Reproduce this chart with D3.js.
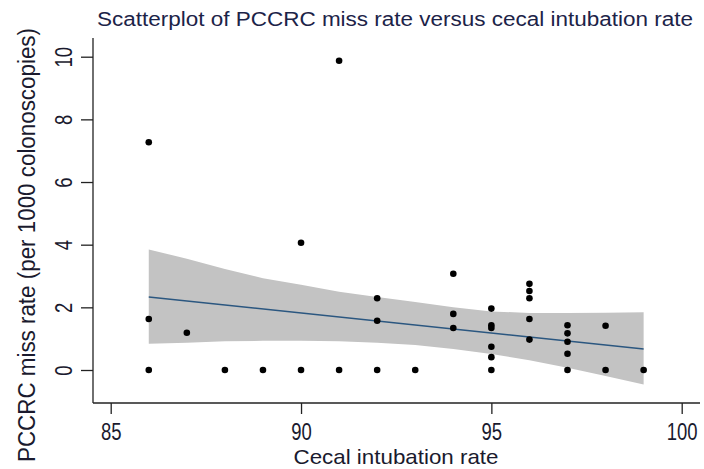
<!DOCTYPE html>
<html>
<head>
<meta charset="utf-8">
<script src="https://cdn.jsdelivr.net/npm/d3@7"></script>
<style>
  html, body { margin: 0; padding: 0; background: #fff; }
  svg { display: block; }
  .narrow { font-family: "Liberation Sans", Arial, sans-serif; }
</style>
</head>
<body>
<svg id="chart" width="704" height="469"></svg>
<script>
// ---- data ----
const cecalRate = [86, 86, 86, 87, 88, 89, 90, 90, 91, 91, 92, 92, 92, 93,
                   94, 94, 94, 95, 95, 95, 95, 95, 95, 96, 96, 96, 96, 96,
                   97, 97, 97, 97, 97, 98, 98, 99];
const missRate  = [7.27, 1.63, 0, 1.19, 0, 0, 4.06, 0, 9.87, 0, 2.29, 1.57, 0, 0,
                   3.07, 1.79, 1.34, 1.96, 1.43, 1.34, 0.74, 0.41, 0, 2.75, 2.52, 2.29, 1.63, 0.97,
                   1.43, 1.17, 0.90, 0.52, 0, 1.41, 0, 0];
// fitted line and 95% CI band
const fitX   = [86, 99];
const fitY   = [2.33, 0.67];
const ciX     = [86, 87, 88, 89, 90, 91, 92, 93, 94, 95, 96, 97, 98, 99];
const ciUpper = [3.85, 3.55, 3.22, 2.93, 2.72, 2.50, 2.33, 2.17, 2.00, 1.87, 1.82, 1.82, 1.83, 1.84];
const ciLower = [0.84, 0.87, 0.92, 0.93, 0.93, 0.92, 0.87, 0.80, 0.67, 0.51, 0.31, 0.07, -0.19, -0.46];
const xTicks = [85, 90, 95, 100];
const yTicks = [0, 2, 4, 6, 8, 10];
const titleText = "Scatterplot of PCCRC miss rate versus cecal intubation rate";
const xTitle = "Cecal intubation rate";
const yTitle = "PCCRC miss rate (per 1000 colonoscopies)";

// ---- layout ----
const svg = d3.select("#chart");
const axisLeftX = 93, axisBottomY = 403, plotTop = 38, plotRight = 700;
const x = d3.scaleLinear().domain([85, 100]).range([110.7, 681.7]);
const y = d3.scaleLinear().domain([0, 10]).range([370, 56.7]);

// CI band
const band = ciX.map((v, i) => ({x: v, lo: ciLower[i], hi: ciUpper[i]}));
svg.append("path")
  .datum(band)
  .attr("fill", "#c3c3c3")
  .attr("d", d3.area().x(d => x(d.x)).y0(d => y(d.lo)).y1(d => y(d.hi)));

// fitted line
svg.append("path")
  .datum(fitX.map((v, i) => ({x: v, y: fitY[i]})))
  .attr("fill", "none")
  .attr("stroke", "#2b5780")
  .attr("stroke-width", 1.4)
  .attr("d", d3.line().x(d => x(d.x)).y(d => y(d.y)));

// points
svg.append("g").selectAll("circle")
  .data(cecalRate.map((v, i) => ({x: v, y: missRate[i]})))
  .join("circle")
  .attr("cx", d => x(d.x))
  .attr("cy", d => y(d.y))
  .attr("r", 3.3)
  .attr("fill", "#000");

// axes lines
svg.append("line").attr("x1", axisLeftX).attr("x2", axisLeftX)
  .attr("y1", plotTop).attr("y2", axisBottomY)
  .attr("stroke", "#222").attr("stroke-width", 1.3);
svg.append("line").attr("x1", axisLeftX).attr("x2", plotRight)
  .attr("y1", axisBottomY).attr("y2", axisBottomY)
  .attr("stroke", "#222").attr("stroke-width", 1.3);

// x axis ticks
const gx = svg.append("g").attr("transform", `translate(0,${axisBottomY})`)
  .call(d3.axisBottom(x).tickValues(xTicks).tickSize(11).tickSizeOuter(0).tickFormat(d3.format("d")));
gx.select(".domain").remove();
gx.selectAll(".tick line").attr("stroke", "#222").attr("stroke-width", 1.3);
gx.selectAll(".tick text")
  .attr("class", "narrow")
  .attr("font-size", 22).attr("fill", "#1a1a2e")
  .attr("dy", null).attr("y", 35.24)
  .attr("transform", "scale(0.84,1.05)");

// y axis ticks
const gy = svg.append("g").attr("transform", `translate(${axisLeftX},0)`)
  .call(d3.axisLeft(y).tickValues(yTicks).tickSize(12).tickSizeOuter(0).tickFormat(d3.format("d")));
gy.select(".domain").remove();
gy.selectAll(".tick line").attr("stroke", "#222").attr("stroke-width", 1.3);
gy.selectAll(".tick text")
  .attr("class", "narrow")
  .attr("font-size", 22).attr("fill", "#1a1a2e")
  .attr("text-anchor", "middle")
  .attr("dy", null).attr("x", null)
  .attr("transform", "translate(-21.3,0) rotate(-90) scale(0.84,1.05)");

// titles
svg.append("text")
  .attr("x", 395).attr("y", 26)
  .attr("text-anchor", "middle")
  .attr("font-family", "'Liberation Sans', Arial, sans-serif")
  .attr("font-size", 19.5).attr("fill", "#1c2348")
  .attr("textLength", 596).attr("lengthAdjust", "spacingAndGlyphs")
  .text(titleText);

svg.append("text")
  .attr("class", "narrow")
  .attr("x", 396).attr("y", 464)
  .attr("text-anchor", "middle")
  .attr("font-size", 21).attr("fill", "#1a1a2e")
  .attr("textLength", 205).attr("lengthAdjust", "spacingAndGlyphs")
  .text(xTitle);

svg.append("text")
  .attr("class", "narrow")
  .attr("transform", "translate(35,245) rotate(-90)")
  .attr("text-anchor", "middle")
  .attr("font-size", 23).attr("fill", "#1a1a2e")
  .attr("textLength", 434).attr("lengthAdjust", "spacingAndGlyphs")
  .text(yTitle);
</script>
</body>
</html>
